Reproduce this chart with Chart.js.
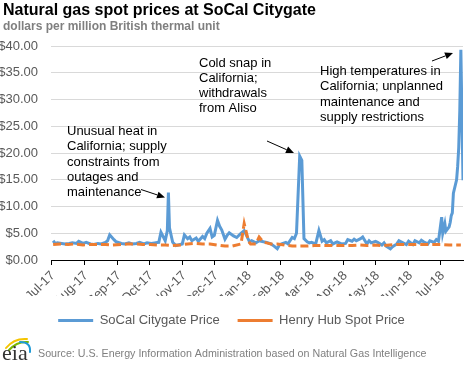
<!DOCTYPE html>
<html>
<head>
<meta charset="utf-8">
<script src="https://cdn.jsdelivr.net/npm/chart.js@4"></script>
<style>
  html, body { margin: 0; padding: 0; background: #fff; }
</style>
</head>
<body>
<canvas id="gasChart" width="468" height="366"></canvas>
<script>
// month ticks on the x axis
const monthStarts = ['2017-07-01', '2017-08-01', '2017-09-01', '2017-10-01', '2017-11-01', '2017-12-01',
    '2018-01-01', '2018-02-01', '2018-03-01', '2018-04-01', '2018-05-01', '2018-06-01', '2018-07-01'];
const monthLabels = ['Jul-17', 'Aug-17', 'Sep-17', 'Oct-17', 'Nov-17', 'Dec-17',
    'Jan-18', 'Feb-18', 'Mar-18', 'Apr-18', 'May-18', 'Jun-18', 'Jul-18'];

// SoCal Citygate, $/MMBtu
const socalDates = [
    '2017-07-03', '2017-07-05', '2017-07-07', '2017-07-11', '2017-07-14', '2017-07-18', '2017-07-21', '2017-07-25', '2017-07-27', '2017-07-31',
    '2017-08-03', '2017-08-07', '2017-08-10', '2017-08-14', '2017-08-17', '2017-08-21', '2017-08-23', '2017-08-25', '2017-08-29', '2017-08-31',
    '2017-09-05', '2017-09-08', '2017-09-12', '2017-09-15', '2017-09-19', '2017-09-22', '2017-09-26', '2017-09-29',
    '2017-10-03', '2017-10-06', '2017-10-10', '2017-10-12', '2017-10-16', '2017-10-18', '2017-10-19', '2017-10-20', '2017-10-23', '2017-10-26', '2017-10-30',
    '2017-11-01', '2017-11-03', '2017-11-06', '2017-11-08', '2017-11-10', '2017-11-14', '2017-11-16', '2017-11-20', '2017-11-22', '2017-11-24', '2017-11-27', '2017-11-29',
    '2017-12-01', '2017-12-04', '2017-12-06', '2017-12-08', '2017-12-11', '2017-12-13', '2017-12-15', '2017-12-19', '2017-12-22', '2017-12-26', '2017-12-29',
    '2018-01-03', '2018-01-05', '2018-01-09', '2018-01-12', '2018-01-16', '2018-01-19', '2018-01-23', '2018-01-26', '2018-01-29', '2018-01-31',
    '2018-02-02', '2018-02-06', '2018-02-08', '2018-02-12', '2018-02-14', '2018-02-16', '2018-02-19', '2018-02-21', '2018-02-23', '2018-02-26', '2018-02-28',
    '2018-03-02', '2018-03-06', '2018-03-09', '2018-03-12', '2018-03-14', '2018-03-16', '2018-03-20', '2018-03-22', '2018-03-26', '2018-03-28', '2018-03-30',
    '2018-04-03', '2018-04-05', '2018-04-09', '2018-04-11', '2018-04-13', '2018-04-17', '2018-04-19', '2018-04-23', '2018-04-25', '2018-04-27',
    '2018-05-01', '2018-05-03', '2018-05-07', '2018-05-09', '2018-05-11', '2018-05-15', '2018-05-17', '2018-05-21', '2018-05-23', '2018-05-25', '2018-05-30',
    '2018-06-01', '2018-06-05', '2018-06-07', '2018-06-11', '2018-06-13', '2018-06-15', '2018-06-19', '2018-06-21', '2018-06-25', '2018-06-27', '2018-06-29',
    '2018-07-02', '2018-07-03', '2018-07-05', '2018-07-06', '2018-07-09', '2018-07-10', '2018-07-11', '2018-07-12', '2018-07-13', '2018-07-16',
    '2018-07-17', '2018-07-18', '2018-07-19', '2018-07-20', '2018-07-22'
];
const socalPrices = [
    3.6, 3.1, 3.2, 3.1, 3.0, 3.1, 3.2, 3.1, 3.5, 3.1,
    3.3, 3.0, 2.9, 3.1, 3.0, 3.3, 3.6, 4.7, 3.8, 3.4,
    3.1, 3.0, 3.2, 3.0, 3.1, 3.3, 3.0, 3.2,
    3.1, 3.2, 3.3, 5.2, 3.6, 5.5, 12.6, 6.0, 3.3, 2.7, 2.9,
    3.0, 4.7, 4.0, 4.3, 3.6, 4.1, 3.5, 4.4, 4.0, 5.0, 5.9, 4.3,
    4.6, 7.4, 6.3, 5.6, 3.9, 4.6, 5.1, 4.5, 4.2, 5.0, 5.5,
    3.4, 3.6, 3.2, 3.6, 3.4, 3.3, 3.0, 2.6, 2.1, 2.8,
    3.0, 3.3, 3.0, 4.2, 4.0, 5.0, 19.4, 18.6, 4.0, 3.4, 3.2,
    3.3, 3.0, 5.5, 3.5, 3.8, 3.2, 3.6, 3.0, 3.4, 3.2, 3.0,
    3.1, 3.8, 3.5, 3.9, 3.6, 4.0, 4.3, 3.0, 3.6, 3.2,
    3.5, 3.3, 2.8, 3.2, 2.6, 2.1, 2.5, 3.0, 3.6, 3.4, 2.9,
    3.5, 2.9, 3.6, 3.2, 3.7, 3.4, 3.0, 3.6, 3.3, 3.8, 3.5,
    8.0, 5.0, 6.8, 5.4, 6.2, 7.0, 8.3, 8.8, 12.5, 15.0,
    17.5, 21.0, 28.0, 39.3, 14.9
];

// Henry Hub spot, $/MMBtu
const henryDates = [
    '2017-07-03', '2017-07-10', '2017-07-17', '2017-07-24', '2017-07-31', '2017-08-07', '2017-08-14', '2017-08-21', '2017-08-28',
    '2017-09-05', '2017-09-11', '2017-09-18', '2017-09-25', '2017-10-02', '2017-10-09', '2017-10-16', '2017-10-23', '2017-10-30',
    '2017-11-06', '2017-11-13', '2017-11-20', '2017-11-27', '2017-12-04', '2017-12-11', '2017-12-18', '2017-12-26', '2017-12-29',
    '2018-01-02', '2018-01-04', '2018-01-09', '2018-01-12', '2018-01-16', '2018-01-19', '2018-01-23', '2018-01-29',
    '2018-02-05', '2018-02-12', '2018-02-20', '2018-02-26', '2018-03-05', '2018-03-12', '2018-03-19', '2018-03-26',
    '2018-04-02', '2018-04-09', '2018-04-16', '2018-04-23', '2018-04-30', '2018-05-07', '2018-05-14', '2018-05-21', '2018-05-29',
    '2018-06-04', '2018-06-11', '2018-06-18', '2018-06-25', '2018-07-02', '2018-07-09', '2018-07-16', '2018-07-20'
];
const henryPrices = [
    2.9, 3.0, 2.9, 3.0, 2.8, 2.9, 2.9, 2.9, 2.8,
    2.9, 3.0, 3.0, 2.9, 2.9, 2.8, 2.8, 2.7, 2.8,
    3.0, 3.1, 3.0, 3.0, 2.8, 2.6, 2.6, 3.0, 6.8,
    3.5, 3.0, 3.0, 4.3, 3.3, 3.2, 3.0, 3.0,
    2.8, 2.6, 2.6, 2.6, 2.7, 2.7, 2.7, 2.7,
    2.7, 2.7, 2.8, 2.7, 2.8, 2.7, 2.8, 2.9, 2.9,
    2.9, 2.9, 2.9, 2.9, 2.9, 2.8, 2.8, 2.8
];

const FONT = '"Liberation Sans", Arial, sans-serif';
const day0 = Date.UTC(2017, 6, 1);
function dayOf(s) {
    const [y, m, d] = s.split('-').map(Number);
    return (Date.UTC(y, m - 1, d) - day0) / 864e5;
}
const monthDays = monthStarts.map(dayOf);

// notes drawn over the plot
const notes = [
    { x: 67, y: 131.5, lines: ['Unusual heat in', 'California; supply', 'constraints from', 'outages and', 'maintenance'],
      arrow: [141, 189.5, 165, 197.5] },
    { x: 199, y: 63, lines: ['Cold snap in', 'California;', 'withdrawals', 'from Aliso'],
      arrow: [267, 141, 294, 153] },
    { x: 320, y: 71.5, lines: ['High temperatures in', 'California; unplanned', 'maintenance and', 'supply restrictions'],
      arrow: [432, 61, 453, 53] }
];

function drawArrow(ctx, x1, y1, x2, y2) {
    const a = Math.atan2(y2 - y1, x2 - x1);
    const len = 8, half = 3.5;
    ctx.beginPath();
    ctx.moveTo(x1, y1);
    ctx.lineTo(x2 - Math.cos(a) * len, y2 - Math.sin(a) * len);
    ctx.stroke();
    ctx.beginPath();
    ctx.moveTo(x2, y2);
    ctx.lineTo(x2 - Math.cos(a) * len - Math.sin(a) * half, y2 - Math.sin(a) * len + Math.cos(a) * half);
    ctx.lineTo(x2 - Math.cos(a) * len + Math.sin(a) * half, y2 - Math.sin(a) * len - Math.cos(a) * half);
    ctx.closePath();
    ctx.fill();
}

function drawLogo(ctx) {
    ctx.save();
    ctx.lineCap = 'round';
    ctx.lineWidth = 2;
    ctx.strokeStyle = '#f5c400';
    ctx.beginPath(); ctx.moveTo(6, 348); ctx.quadraticCurveTo(14, 338, 27, 339); ctx.stroke();
    ctx.strokeStyle = '#7ab800';
    ctx.beginPath(); ctx.moveTo(9, 350); ctx.quadraticCurveTo(17, 341, 28, 342); ctx.stroke();
    ctx.strokeStyle = '#1e9ad6';
    ctx.beginPath(); ctx.moveTo(20, 342); ctx.quadraticCurveTo(31, 342, 30, 352); ctx.stroke();
    ctx.fillStyle = '#333';
    ctx.font = '22px "Liberation Serif", "DejaVu Serif", serif';
    ctx.textBaseline = 'alphabetic';
    ctx.fillText('eia', 2, 360);
    ctx.restore();
}

const decor = {
    id: 'decor',
    afterDraw(chart) {
        const ctx = chart.ctx;
        ctx.save();
        ctx.textAlign = 'left';
        ctx.textBaseline = 'alphabetic';
        ctx.fillStyle = '#000';
        ctx.font = 'bold 16px ' + FONT;
        ctx.fillText('Natural gas spot prices at SoCal Citygate', 3, 15);
        ctx.fillStyle = '#7f7f7f';
        ctx.font = 'bold 12px ' + FONT;
        ctx.fillText('dollars per million British thermal unit', 3, 29.5);

        ctx.fillStyle = '#000';
        ctx.strokeStyle = '#000';
        ctx.lineWidth = 1;
        ctx.font = '13px ' + FONT;
        ctx.textBaseline = 'middle';
        notes.forEach(n => {
            n.lines.forEach((t, i) => ctx.fillText(t, n.x, n.y + i * 15.3));
            drawArrow(ctx, ...n.arrow);
        });

        ctx.fillStyle = '#7f7f7f';
        ctx.font = '10.7px ' + FONT;
        ctx.fillText('Source: U.S. Energy Information Administration based on Natural Gas Intelligence', 38, 354);
        ctx.restore();
        drawLogo(ctx);
    }
};

Chart.defaults.font.family = FONT;

new Chart(document.getElementById('gasChart').getContext('2d'), {
    type: 'line',
    data: {
        datasets: [{
            label: 'SoCal Citygate Price',
            data: socalDates.map((d, i) => ({ x: dayOf(d), y: socalPrices[i] })),
            borderColor: '#5b9bd5',
            backgroundColor: '#5b9bd5',
            borderWidth: 3,
            pointRadius: 0,
            tension: 0,
            order: 1
        }, {
            label: 'Henry Hub Spot Price',
            data: henryDates.map((d, i) => ({ x: dayOf(d), y: henryPrices[i] })),
            borderColor: '#ed7d31',
            backgroundColor: '#ed7d31',
            borderWidth: 3,
            borderDash: [8, 4],
            pointRadius: 0,
            tension: 0,
            order: 0
        }]
    },
    options: {
        responsive: false,
        animation: false,
        layout: { padding: { top: 46, right: 5, bottom: 29, left: 0 } },
        scales: {
            x: {
                type: 'linear',
                min: 0,
                max: 386,
                afterBuildTicks: s => { s.ticks = monthDays.map(v => ({ value: v })); },
                afterFit: s => { s.height = 36; },
                ticks: {
                    autoSkip: false,
                    minRotation: 45,
                    maxRotation: 45,
                    padding: 3,
                    labelOffset: 2,
                    color: '#595959',
                    font: { size: 13 },
                    callback: v => monthLabels[monthDays.indexOf(v)]
                },
                grid: { drawOnChartArea: false, drawTicks: true, tickLength: 5, color: '#000' },
                border: { display: true, color: '#000', width: 1 }
            },
            y: {
                min: 0,
                max: 40,
                afterFit: s => { s.width = 51; },
                ticks: {
                    stepSize: 5,
                    padding: 13,
                    color: '#595959',
                    font: { size: 13 },
                    callback: v => '$' + v.toFixed(2)
                },
                grid: { color: '#d9d9d9', drawTicks: false },
                border: { display: false }
            }
        },
        plugins: {
            tooltip: { enabled: false },
            legend: {
                position: 'bottom',
                labels: {
                    usePointStyle: true,
                    pointStyle: 'line',
                    pointStyleWidth: 35,
                    padding: 18,
                    color: '#595959',
                    font: { size: 13 },
                    sort: (a, b) => a.datasetIndex - b.datasetIndex
                }
            }
        }
    },
    plugins: [decor]
});
</script>
</body>
</html>
